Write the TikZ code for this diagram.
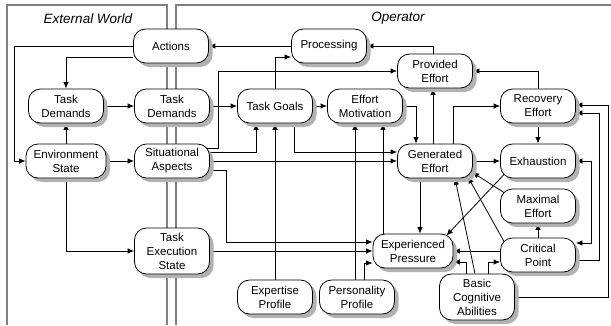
\documentclass[tikz,border=0pt]{standalone}
\usepackage{fontspec}
\setmainfont{Liberation Sans}
\usetikzlibrary{arrows.meta,shadows}
\pgfdeclarelayer{background}
\pgfsetlayers{background,main}
\begin{document}
\begin{tikzpicture}[x=1pt,y=-1pt,
  box/.style={draw, fill=white, line width=0.8pt, rounded corners=12pt,
    minimum width=75pt, minimum height=34pt, inner sep=1pt, align=center,
    font=\fontsize{11.5}{14}\selectfont,
    drop shadow={shadow xshift=4pt, shadow yshift=-4pt, opacity=1, fill=gray!60, draw=none}},
  widebox/.style={box, minimum width=80pt},
  tallbox/.style={box, minimum height=46pt},
  conn/.style={-{Latex[length=6.5pt,width=5.5pt]}, line width=0.8pt},
  bothconn/.style={{Latex[length=6.5pt,width=5.5pt]}-{Latex[length=6.5pt,width=5.5pt]}, line width=0.8pt},
  frame/.style={draw=black!50, line width=1.3pt},
  framelabel/.style={font=\fontsize{13.5}{16}\selectfont\itshape}
]
\useasboundingbox (0,0) rectangle (611,325);

% nodes
\node[box] (act) at (171,46) {Actions};
\node[box] (proc) at (329,46) {Processing};
\node[box] (pe) at (435,71) {Provided\\Effort};
\node[box] (tdl) at (66,106) {Task\\Demands};
\node[box] (tdr) at (172,106) {Task\\Demands};
\node[box] (tg) at (275,106) {Task Goals};
\node[box] (em) at (365,106) {Effort\\Motivation};
\node[box] (re) at (538,106) {Recovery\\Effort};
\node[widebox] (es) at (66,161) {Environment\\State};
\node[box] (sa) at (172,161) {Situational\\Aspects};
\node[box] (ge) at (435,161) {Generated\\Effort};
\node[box] (ex) at (538,161) {Exhaustion};
\node[box] (me) at (538,206) {Maximal\\Effort};
\node[box] (cp) at (538,255) {Critical\\Point};
\node[tallbox] (tes) at (172,251) {Task\\Execution\\State};
\node[widebox] (ep) at (413,251) {Experienced\\Pressure};
\node[box] (xp) at (275,297) {Expertise\\Profile};
\node[box] (pp) at (357,297) {Personality\\Profile};
\node[tallbox] (bca) at (477,297) {Basic\\Cognitive\\Abilities};

\node[framelabel] (extlabel) at (88,19) {External World};
\node[framelabel] (oplabel) at (398,18) {Operator};

\begin{pgfonlayer}{background}
% frames
\draw[frame] (7,325) -- (7,5) -- (167,5) -- (167,325);
\draw[frame] (176,325) -- (176,5) -- (611,5);

% connectors
\draw[conn] ([yshift=-11pt]act.west) -| (tdl.north);
\draw[conn] (act.west) -| ([xshift=-11pt]es.west) -- (es.west);
\draw[conn] (proc.west) -- (act.east);
\draw[conn] ([xshift=-2pt]pe.north) |- (proc.east);
\draw[conn] (tg.north) |- ([yshift=-11pt]proc.west);
\draw[conn] (tdl.east) -- (tdr.west);
\draw[conn] (tdr.east) -- (tg.west);
\draw[conn] (tg.east) -- (em.west);
\draw[conn] (em.east) -| ([xshift=-19pt]ge.north);
\draw[conn] (es.north) -- (tdl.south);
\draw[conn] (es.east) -- (sa.west);
\draw[conn] (es.south) |- (tes.west);
\draw[conn] ([xshift=-3pt,yshift=9pt]sa.east) -| ([xshift=-19pt]tg.south);
\draw[conn] ([xshift=-3pt,yshift=13pt]sa.east) -- ++(11pt,0) |- (pe.west);
\draw[conn] (sa.east) -- (ge.west);
\draw[conn] ([xshift=19pt]tg.south) |- ([yshift=9pt]ge.west);
\draw[conn] ([xshift=-3pt,yshift=-9pt]sa.east) -- ++(19pt,0) |- ([yshift=9pt]ep.west);
\draw[conn] (tes.east) -- (ep.west);
\draw[conn] ([xshift=7pt]pp.north) |- ([yshift=-12pt]ep.west);
\draw[conn] (xp.north) -- (tg.south);
\draw[conn] ([xshift=-2pt]pp.north) -- ([xshift=-2pt]pp.north |- em.south);
\draw[conn] ([xshift=-30pt]ep.north) -- ([xshift=-30pt]ep.north |- em.south);
\draw[conn] ([xshift=-15pt]ge.south) -- ([xshift=-15pt]ge.south |- ep.north);
\draw[conn] ([xshift=-2pt]ge.north) -- ([xshift=-2pt]ge.north |- pe.south);
\draw[conn] ([xshift=18pt]ge.north) |- (re.west);
\draw[conn] (ge.east) -- (ex.west);
\draw[conn] (re.north) |- (pe.east);
\draw[conn] (re.south) -- (ex.north);
\draw[conn] ([xshift=4pt,yshift=4pt]ex.south west) -- ([xshift=-7pt,yshift=-2pt]ep.north east);
\draw[conn] ([xshift=4pt,yshift=-4pt]me.north west) -- ([xshift=-0.5pt,yshift=6pt]ge.south east);
\draw[conn] ([xshift=4pt,yshift=-4pt]cp.north west) -- ([xshift=-5pt,yshift=1.5pt]ge.south east);
\draw[conn] (cp.north) -- (me.south);
\draw[conn] (cp.west |- ep.east) -- (ep.east);
\draw[conn] ([yshift=-5pt]cp.east) -- ++(23pt,0) |- ([yshift=-7pt]re.east);
\draw[bothconn] (ex.east) -- ++(15pt,0) |- ([yshift=12pt]cp.east);
\draw[conn] (bca.east) -- ++(93pt,0) |- ([yshift=1pt]re.east);
\draw[conn] ([xshift=-11pt]bca.north) |- ([yshift=-11pt]ep.east);
\draw[conn] ([xshift=11pt]bca.north) |- ([yshift=-7pt]cp.west);
\draw[conn] ([xshift=-2pt]bca.north) -- ([xshift=20pt]ge.south);
\end{pgfonlayer}
\end{tikzpicture}
\end{document}
